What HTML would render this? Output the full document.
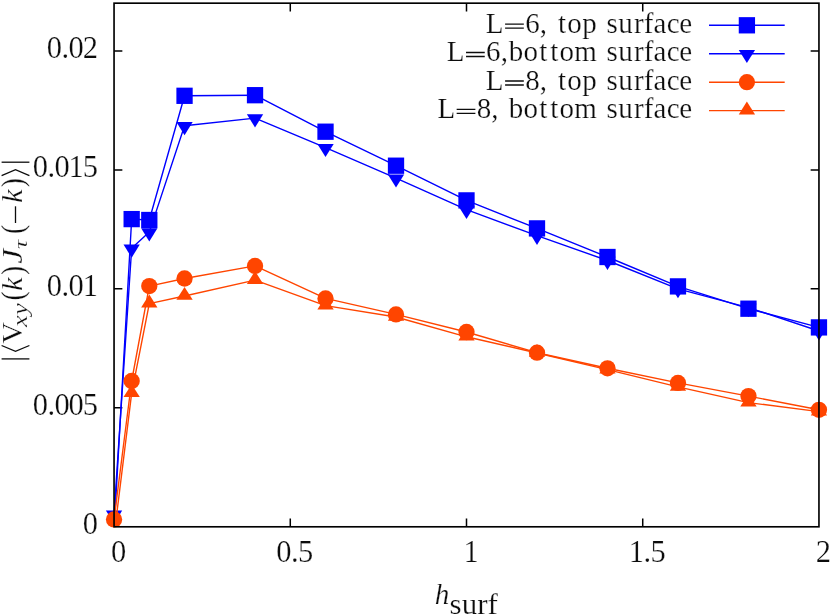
<!DOCTYPE html>
<html><head><meta charset="utf-8"><title>plot</title>
<style>
html,body{margin:0;padding:0;background:#fff;}
body{width:830px;height:615px;overflow:hidden;}
svg{display:block;will-change:transform;}
text{font-family:"Liberation Serif",serif;font-size:29px;fill:#0c0c0c;stroke:#fff;stroke-width:0.24px;}
</style></head><body>
<svg width="830" height="615" viewBox="0 0 830 615">
<defs><clipPath id="pc"><rect x="104.05" y="3.17" width="724.9000000000001" height="523.63"/></clipPath></defs>
<rect width="830" height="615" fill="#fff"/>
<path d="M290.28 526.8v-8.3M290.28 3.17v8.3M466.50 526.8v-8.3M466.50 3.17v8.3M642.73 526.8v-8.3M642.73 3.17v8.3M114.05 407.82h8.3M818.95 407.82h-8.3M114.05 288.85h8.3M818.95 288.85h-8.3M114.05 169.88h8.3M818.95 169.88h-8.3M114.05 50.90h8.3M818.95 50.90h-8.3" stroke="#000" stroke-width="1.5" fill="none"/>
<polyline clip-path="url(#pc)" fill="none" stroke="#0000ff" stroke-width="1.4" stroke-linejoin="round" points="114.05,530.00 131.67,219.10 149.30,220.00 184.54,95.80 255.03,95.20 325.52,131.70 396.01,165.70 466.50,200.40 536.99,228.40 607.48,257.00 677.97,286.40 748.46,308.70 818.95,327.40"/>
<rect x="123.52" y="210.95" width="16.30" height="16.30" fill="#0000ff"/>
<rect x="141.15" y="211.85" width="16.30" height="16.30" fill="#0000ff"/>
<rect x="176.39" y="87.65" width="16.30" height="16.30" fill="#0000ff"/>
<rect x="246.88" y="87.05" width="16.30" height="16.30" fill="#0000ff"/>
<rect x="317.37" y="123.55" width="16.30" height="16.30" fill="#0000ff"/>
<rect x="387.86" y="157.55" width="16.30" height="16.30" fill="#0000ff"/>
<rect x="458.35" y="192.25" width="16.30" height="16.30" fill="#0000ff"/>
<rect x="528.84" y="220.25" width="16.30" height="16.30" fill="#0000ff"/>
<rect x="599.33" y="248.85" width="16.30" height="16.30" fill="#0000ff"/>
<rect x="669.82" y="278.25" width="16.30" height="16.30" fill="#0000ff"/>
<rect x="740.31" y="300.55" width="16.30" height="16.30" fill="#0000ff"/>
<rect x="810.80" y="319.25" width="16.30" height="16.30" fill="#0000ff"/>
<polyline clip-path="url(#pc)" fill="none" stroke="#0000ff" stroke-width="1.4" stroke-linejoin="round" points="114.05,514.30 131.67,248.30 149.30,232.10 184.54,125.80 255.03,118.10 325.52,147.70 396.01,178.20 466.50,209.70 536.99,235.60 607.48,260.50 677.97,288.90 748.46,307.60 818.95,331.00"/>
<path d="M105.90 510.50H122.20L114.05 523.70Z" fill="#0000ff"/>
<path d="M123.52 244.50H139.82L131.67 257.70Z" fill="#0000ff"/>
<path d="M141.15 228.30H157.45L149.30 241.50Z" fill="#0000ff"/>
<path d="M176.39 122.00H192.69L184.54 135.20Z" fill="#0000ff"/>
<path d="M246.88 114.30H263.18L255.03 127.50Z" fill="#0000ff"/>
<path d="M317.37 143.90H333.67L325.52 157.10Z" fill="#0000ff"/>
<path d="M387.86 174.40H404.16L396.01 187.60Z" fill="#0000ff"/>
<path d="M458.35 205.90H474.65L466.50 219.10Z" fill="#0000ff"/>
<path d="M528.84 231.80H545.14L536.99 245.00Z" fill="#0000ff"/>
<path d="M599.33 256.70H615.63L607.48 269.90Z" fill="#0000ff"/>
<path d="M669.82 285.10H686.12L677.97 298.30Z" fill="#0000ff"/>
<path d="M740.31 303.80H756.61L748.46 317.00Z" fill="#0000ff"/>
<path d="M810.80 327.20H827.10L818.95 340.40Z" fill="#0000ff"/>
<polyline clip-path="url(#pc)" fill="none" stroke="#ff4500" stroke-width="1.4" stroke-linejoin="round" points="114.05,519.40 131.67,381.00 149.30,286.10 184.54,278.50 255.03,265.90 325.52,298.40 396.01,314.40 466.50,332.00 536.99,352.70 607.48,368.30 677.97,382.90 748.46,396.10 818.95,409.80"/>
<circle cx="114.05" cy="519.40" r="8.15" fill="#ff4500"/>
<circle cx="131.67" cy="381.00" r="8.15" fill="#ff4500"/>
<circle cx="149.30" cy="286.10" r="8.15" fill="#ff4500"/>
<circle cx="184.54" cy="278.50" r="8.15" fill="#ff4500"/>
<circle cx="255.03" cy="265.90" r="8.15" fill="#ff4500"/>
<circle cx="325.52" cy="298.40" r="8.15" fill="#ff4500"/>
<circle cx="396.01" cy="314.40" r="8.15" fill="#ff4500"/>
<circle cx="466.50" cy="332.00" r="8.15" fill="#ff4500"/>
<circle cx="536.99" cy="352.70" r="8.15" fill="#ff4500"/>
<circle cx="607.48" cy="368.30" r="8.15" fill="#ff4500"/>
<circle cx="677.97" cy="382.90" r="8.15" fill="#ff4500"/>
<circle cx="748.46" cy="396.10" r="8.15" fill="#ff4500"/>
<circle cx="818.95" cy="409.80" r="8.15" fill="#ff4500"/>
<polyline clip-path="url(#pc)" fill="none" stroke="#ff4500" stroke-width="1.4" stroke-linejoin="round" points="114.05,535.70 131.67,393.20 149.30,303.60 184.54,296.00 255.03,280.10 325.52,305.60 396.01,317.00 466.50,336.80 536.99,353.00 607.48,369.60 677.97,386.90 748.46,402.60 818.95,411.60"/>
<path d="M123.52 397.00H139.82L131.67 384.20Z" fill="#ff4500"/>
<path d="M141.15 307.40H157.45L149.30 294.60Z" fill="#ff4500"/>
<path d="M176.39 299.80H192.69L184.54 287.00Z" fill="#ff4500"/>
<path d="M246.88 283.90H263.18L255.03 271.10Z" fill="#ff4500"/>
<path d="M317.37 309.40H333.67L325.52 296.60Z" fill="#ff4500"/>
<path d="M387.86 320.80H404.16L396.01 308.00Z" fill="#ff4500"/>
<path d="M458.35 340.60H474.65L466.50 327.80Z" fill="#ff4500"/>
<path d="M528.84 356.80H545.14L536.99 344.00Z" fill="#ff4500"/>
<path d="M599.33 373.40H615.63L607.48 360.60Z" fill="#ff4500"/>
<path d="M669.82 390.70H686.12L677.97 377.90Z" fill="#ff4500"/>
<path d="M740.31 406.40H756.61L748.46 393.60Z" fill="#ff4500"/>
<path d="M810.80 415.40H827.10L818.95 402.60Z" fill="#ff4500"/>
<line x1="709.0" y1="25.3" x2="784.7" y2="25.3" stroke="#0000ff" stroke-width="1.4"/><rect x="738.75" y="17.15" width="16.30" height="16.30" fill="#0000ff"/>
<line x1="709.0" y1="53.7" x2="784.7" y2="53.7" stroke="#0000ff" stroke-width="1.4"/><path d="M738.75 49.90H755.05L746.90 63.10Z" fill="#0000ff"/>
<line x1="709.0" y1="82.2" x2="784.7" y2="82.2" stroke="#ff4500" stroke-width="1.4"/><circle cx="746.90" cy="82.20" r="8.15" fill="#ff4500"/>
<line x1="709.0" y1="110.6" x2="784.7" y2="110.6" stroke="#ff4500" stroke-width="1.4"/><path d="M738.75 114.40H755.05L746.90 101.60Z" fill="#ff4500"/>
<rect x="114.05" y="3.17" width="704.90" height="523.63" fill="none" stroke="#000" stroke-width="1.65"/>

<path d="M505.09 24.10h18.73M505.09 28.10h18.73" stroke="#0c0c0c" stroke-width="1.3" fill="none"/><text x="485.86 525.17 539.73 558.07 567.35 582.20 606.53 618.27 634.02 643.84 653.56 666.83 679.32" y="32.80" style="font-size:29px">L6,topsurface</text>
<path d="M466.03 52.50h18.73M466.03 56.50h18.73" stroke="#0c0c0c" stroke-width="1.3" fill="none"/><text x="446.81 486.11 500.67 508.78 523.62 539.34 550.28 559.56 574.27 606.53 618.27 634.02 643.84 653.56 666.83 679.32" y="61.20" style="font-size:29px">L6,bottomsurface</text>
<path d="M505.09 81.00h18.73M505.09 85.00h18.73" stroke="#0c0c0c" stroke-width="1.3" fill="none"/><text x="485.86 525.17 539.73 558.07 567.35 582.20 606.53 618.27 634.02 643.84 653.56 666.83 679.32" y="89.70" style="font-size:29px">L8,topsurface</text>
<path d="M456.66 109.40h18.73M456.66 113.40h18.73" stroke="#0c0c0c" stroke-width="1.3" fill="none"/><text x="437.44 476.75 491.31 508.78 523.62 539.34 550.28 559.56 574.27 606.53 618.27 634.02 643.84 653.56 666.83 679.32" y="118.10" style="font-size:29px">L8,bottomsurface</text>
<text x="82.64" y="534.20" style="font-size:30.5px">0</text>
<text x="32.65 47.40 54.52 68.58 82.64" y="415.22" style="font-size:30.5px">0.005</text>
<text x="46.71 61.46 68.59 82.65" y="296.25" style="font-size:30.5px">0.01</text>
<text x="32.65 47.40 54.52 68.58 82.64" y="177.28" style="font-size:30.5px">0.015</text>
<text x="46.71 61.46 68.59 82.65" y="58.30" style="font-size:30.5px">0.02</text>
<text x="110.92" y="562.40" style="font-size:30.5px">0</text>
<text x="276.21 290.96 298.09" y="562.40" style="font-size:30.5px">0.5</text>
<text x="463.38" y="562.40" style="font-size:30.5px">1</text>
<text x="628.66 643.41 650.54" y="562.40" style="font-size:30.5px">1.5</text>
<text x="815.83" y="562.40" style="font-size:30.5px">2</text>
<text x="434.8" y="603.8" font-style="italic" textLength="14.6" lengthAdjust="spacingAndGlyphs">h</text><text x="449.6" y="614.3" textLength="48.3" lengthAdjust="spacingAndGlyphs">surf</text>

<g transform="translate(22.2 362.8) rotate(-90)"><path d="M3.90 -20.6V7.2" stroke="#0c0c0c" stroke-width="1.3" fill="none"/><path d="M17.30 -20.6L11.40 -6.7L17.30 7.2" stroke="#0c0c0c" stroke-width="1.3" fill="none"/><text transform="translate(19.38 0.00) scale(1.0 1)" style="font-size:29.5px">V</text><text x="35.9" y="5.0" font-style="italic" style="font-size:20.5px" textLength="23.6" lengthAdjust="spacingAndGlyphs">xy</text><text transform="translate(62.20 0.50) scale(0.88 1)" style="font-size:31.0px">(</text><text transform="translate(71.71 0.00) scale(1.08 1)" font-style="italic" style="font-size:28.5px">k</text><text transform="translate(87.83 0.50) scale(0.88 1)" style="font-size:31.0px">)</text><text transform="translate(99.10 0.00) scale(1.13 1)" font-style="italic" style="font-size:29.5px">J</text><text transform="translate(113.73 4.60) scale(1.4 1)" font-style="italic" style="font-size:18.5px">τ</text><text transform="translate(128.80 0.50) scale(0.88 1)" style="font-size:31.0px">(</text><path d="M139.8 -6.7H156.5" stroke="#0c0c0c" stroke-width="1.3" fill="none"/><text transform="translate(159.71 0.00) scale(1.08 1)" font-style="italic" style="font-size:28.5px">k</text><text transform="translate(175.53 0.50) scale(0.88 1)" style="font-size:31.0px">)</text><path d="M187.20 -20.6L193.10 -6.7L187.20 7.2" stroke="#0c0c0c" stroke-width="1.3" fill="none"/><path d="M200.60 -20.6V7.2" stroke="#0c0c0c" stroke-width="1.3" fill="none"/></g>

</svg>
</body></html>
